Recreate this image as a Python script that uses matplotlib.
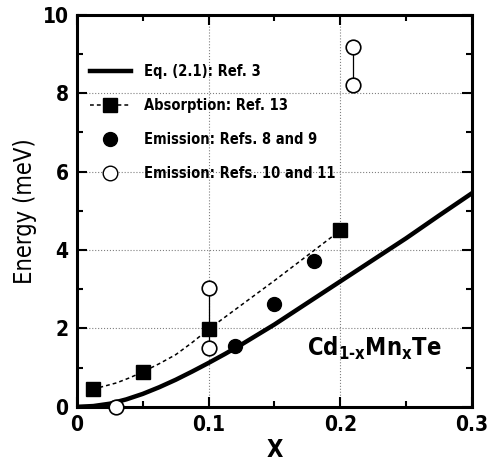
import matplotlib
matplotlib.use('Agg')
import matplotlib.pyplot as plt
from matplotlib.ticker import MultipleLocator
from matplotlib.lines import Line2D

plt.rcParams['font.family'] = ['DejaVu Sans']
plt.rcParams['font.stretch'] = 'condensed'
plt.rcParams['font.weight'] = 'bold'
plt.rcParams['mathtext.fontset'] = 'custom'
plt.rcParams['mathtext.rm'] = 'DejaVu Sans:bold'
plt.rcParams['mathtext.bf'] = 'DejaVu Sans:bold'

# Eq. (2.1): Ref. 3 (solid curve)
eq_x = [0.0, 0.0125, 0.025, 0.0375, 0.05, 0.0625, 0.075, 0.0875, 0.1, 0.1125, 0.125, 0.15,
        0.175, 0.2, 0.225, 0.25, 0.275, 0.3]
eq_y = [0.0, 0.02, 0.08, 0.19, 0.33, 0.5, 0.69, 0.9, 1.12, 1.35, 1.59, 2.1,
        2.65, 3.2, 3.75, 4.3, 4.88, 5.45]

# Absorption: Ref. 13 (squares + dashed guide)
abs_x = [0.012, 0.05, 0.1, 0.2]
abs_y = [0.45, 0.9, 1.98, 4.5]
guide_x = [0.012, 0.02, 0.03, 0.04, 0.05, 0.0625, 0.075, 0.0875, 0.1, 0.125, 0.15, 0.175, 0.2]
guide_y = [0.45, 0.52, 0.61, 0.74, 0.89, 1.1, 1.33, 1.64, 1.98, 2.6, 3.22, 3.86, 4.5]

# Emission: Refs. 8 and 9 (filled circles)
em1_x = [0.12, 0.15, 0.18]
em1_y = [1.55, 2.62, 3.72]

# Emission: Refs. 10 and 11 (open circles)
em2_x = [0.03, 0.1, 0.1, 0.21, 0.21]
em2_y = [0.0, 1.5, 3.02, 8.22, 9.18]

fig = plt.figure(figsize=(4.87, 4.66), dpi=100)
ax = fig.add_axes([0.158, 0.127, 0.811, 0.841])

ax.grid(True, which='major', linestyle=':', color='gray', linewidth=0.8)

ax.plot(eq_x, eq_y, color='black', linewidth=3.2, zorder=3)
ax.plot(guide_x, guide_y, color='black', linestyle=(0, (2.5, 2)), linewidth=1.1, zorder=3)
ax.plot(abs_x, abs_y, 's', color='black', markersize=10, zorder=4)
ax.plot(em1_x, em1_y, 'o', color='black', markersize=10, zorder=4)
# vertical links between paired open circles
ax.plot([em2_x[1], em2_x[2]], [em2_y[1], em2_y[2]], color='black', linewidth=0.9, zorder=3)
ax.plot([em2_x[3], em2_x[4]], [em2_y[3], em2_y[4]], color='black', linewidth=0.9, zorder=3)
ax.plot(em2_x, em2_y, 'o', markerfacecolor='white', markeredgecolor='black',
        markersize=10.5, markeredgewidth=1.2, zorder=5, clip_on=False)

ax.set_xlim(0, 0.3)
ax.set_ylim(0, 10)
ax.xaxis.set_major_locator(MultipleLocator(0.1))
ax.xaxis.set_minor_locator(MultipleLocator(0.05))
ax.yaxis.set_major_locator(MultipleLocator(2))
ax.yaxis.set_minor_locator(MultipleLocator(1))
ax.xaxis.set_major_formatter(plt.FuncFormatter(lambda v, p: '0' if abs(v) < 1e-9 else f'{v:.1f}'))
ax.tick_params(which='both', direction='in', top=True, right=True, width=1.5)
ax.tick_params(which='major', length=7, labelsize=15, pad=6)
ax.tick_params(which='minor', length=4)
for s in ax.spines.values():
    s.set_linewidth(2.2)

ax.set_xlabel('X', fontsize=17, fontweight='bold', labelpad=2)
ax.set_ylabel('Energy (meV)', fontsize=17, fontweight='normal')

ax.text(0.175, 1.3, 'Cd$_{\\mathbf{1\u2010x}}$Mn$_{\\mathbf{x}}$Te', fontsize=17, fontweight='bold')

handles = [
    Line2D([], [], color='black', linewidth=3.2),
    Line2D([], [], color='black', linestyle=(0, (2.5, 2)), linewidth=1.1, marker='s', markersize=10),
    Line2D([], [], color='none', marker='o', markerfacecolor='black', markeredgecolor='black', markersize=10),
    Line2D([], [], color='none', marker='o', markerfacecolor='white', markeredgecolor='black', markersize=10.5),
]
labels = ['Eq. (2.1): Ref. 3', 'Absorption: Ref. 13',
          'Emission: Refs. 8 and 9', 'Emission: Refs. 10 and 11']
ax.legend(handles, labels, loc='upper left', bbox_to_anchor=(0.0, 0.908), frameon=False,
          fontsize=10.5, handlelength=2.8, labelspacing=1.3, handletextpad=0.9)

fig.savefig('out.png', dpi=100)
